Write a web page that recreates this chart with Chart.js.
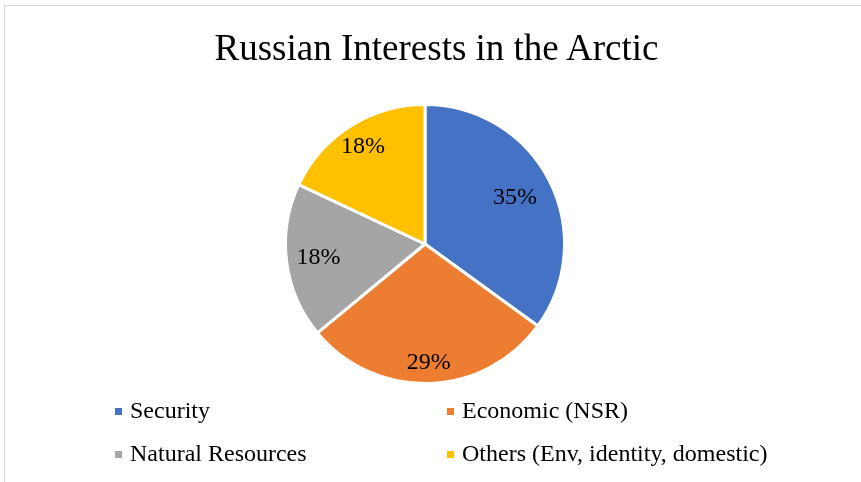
<!DOCTYPE html>
<html lang="en">
<head>
    <meta charset="UTF-8">
    <title>Russian Interests in the Arctic</title>
    <script src="https://cdn.jsdelivr.net/npm/chart.js@4.4.0/dist/chart.umd.min.js"></script>
    <style>
        body { margin: 0; background: #fff; font-family: "Liberation Serif", "Times New Roman", serif; }
        .wrap { position: relative; width: 861px; height: 482px; overflow: hidden; }
        .frame { position: absolute; left: 4px; top: 5px; width: 900px; height: 520px; border: 1px solid #d9d9d9; box-sizing: border-box; }
        canvas { position: absolute; left: 0; top: 0; }
        .title { position: absolute; left: 0; width: 873px; top: 28px; text-align: center; font-size: 37px; line-height: 40px; color: #000; }
        .legend { position: absolute; left: 0; top: 0; }
        .item { position: absolute; font-size: 24px; color: #000; white-space: nowrap; line-height: 24px; }
        .item span { display: inline-block; width: 7px; height: 7px; margin-right: 8px; vertical-align: 3px; }
    </style>
</head>
<body>
<div class="wrap">
    <div class="frame"></div>
    <canvas id="pie" width="861" height="482"></canvas>
    <div class="title">Russian Interests in the Arctic</div>
    <div class="legend" id="legend"></div>
</div>
<script>
    // chart data
    const categories = ['Security', 'Economic (NSR)', 'Natural Resources', 'Others (Env, identity, domestic)'];
    const shares = [35, 29, 18, 18];
    const colors = ['#4472C4', '#ED7D31', '#A5A5A5', '#FFC000'];

    // how far out each percent label sits (fraction of radius), like Excel's best fit
    const labelRadius = [0.725, 0.85, 0.77, 0.83];

    const sliceLabels = {
        id: 'sliceLabels',
        afterDatasetsDraw(chart) {
            const ctx = chart.ctx;
            const total = shares.reduce((a, b) => a + b, 0);
            ctx.save();
            ctx.font = '24px "Liberation Serif", "Times New Roman", serif';
            ctx.fillStyle = '#000';
            ctx.textAlign = 'center';
            ctx.textBaseline = 'middle';
            chart.getDatasetMeta(0).data.forEach((arc, i) => {
                const mid = (arc.startAngle + arc.endAngle) / 2;
                const r = arc.outerRadius * labelRadius[i];
                const x = arc.x + Math.cos(mid) * r;
                const y = arc.y + Math.sin(mid) * r;
                ctx.fillText(Math.round(shares[i] / total * 100) + '%', x, y);
            });
            ctx.restore();
        }
    };

    new Chart(document.getElementById('pie'), {
        type: 'pie',
        data: {
            labels: categories,
            datasets: [{
                data: shares,
                backgroundColor: colors,
                borderColor: '#fff',
                borderWidth: 3
            }]
        },
        options: {
            responsive: false,
            animation: false,
            layout: { padding: { top: 103, bottom: 97, left: 0, right: 11 } },
            plugins: {
                legend: { display: false },
                tooltip: { enabled: false }
            }
        },
        plugins: [sliceLabels]
    });

    // legend in two columns
    const legendPos = [[115, 398], [447, 398], [115, 441], [447, 441]];
    const legend = document.getElementById('legend');
    categories.forEach((name, i) => {
        const div = document.createElement('div');
        div.className = 'item';
        div.style.left = legendPos[i][0] + 'px';
        div.style.top = legendPos[i][1] + 'px';
        div.innerHTML = '<span style="background:' + colors[i] + '"></span>' + name;
        legend.appendChild(div);
    });
</script>
</body>
</html>
